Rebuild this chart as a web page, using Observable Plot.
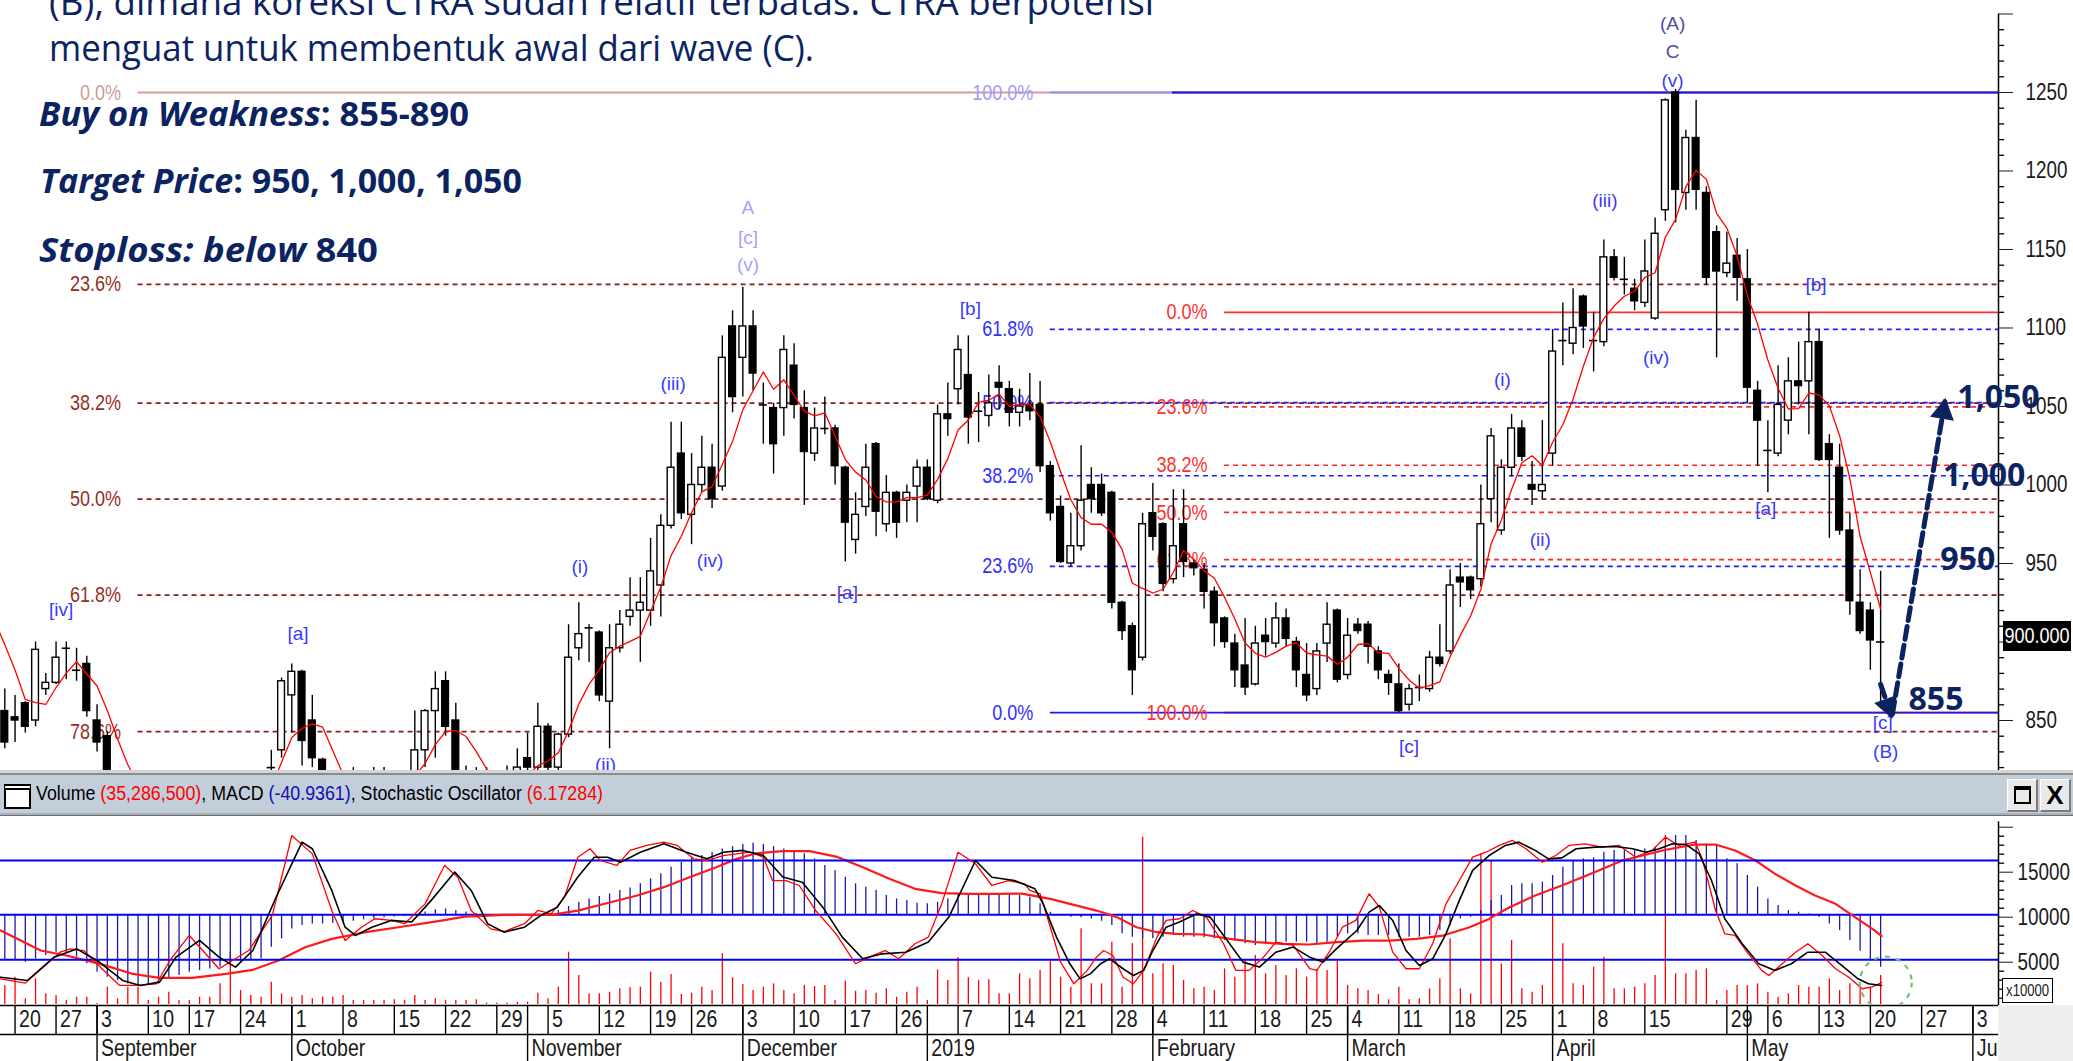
<!DOCTYPE html>
<html>
<head>
<meta charset="utf-8">
<script src="https://cdn.jsdelivr.net/npm/d3@7"></script>
<script src="https://cdn.jsdelivr.net/npm/@observablehq/plot@0.6"></script>
<style>
  html, body { margin: 0; padding: 0; background: #fff; }
  #root { position: relative; width: 2073px; height: 1061px; overflow: hidden; background: #fff; }
  #root > * { position: absolute; }
</style>
</head>
<body>
<div id="root"></div>
<script>
// ================= DATA =================
// trading calendar: first candle index and its date, days without a candle
const firstIndex = -5;
const startDate = "2018-08-10";
const lastCandleDate = "2019-05-21";
const noTradeDays = ["2018-08-17","2018-08-22","2018-08-31","2018-09-11","2018-11-20","2018-12-24","2018-12-25",
  "2018-12-31","2019-01-01","2019-02-01","2019-03-01","2019-04-03","2019-04-17","2019-04-19","2019-05-01"];
const monthNames = ["January","February","March","April","May","June","July","August","September","October","November","December"];

// daily CTRA candles (index -5 .. 182)
const opens = [935,930,940,905,856,852,861,850,870,874, 897,883,886,850,840,812,805,800,795,800,
  798,792,785,790,798,805,800,795,802,808, 819,831,866,881,850,825,810,800,805,812,
  806,815,810,804,814,831,856,875,850,815, 812,808,815,805,815,826,820,846,820,841,
  896,910,906,862,896,916,920,920,936,974, 1020,981,1000,1011,999,1101,1081,1101,1052,1049,
  1049,1076,1049,1020,1037,1036,1011,965,986,1026, 975,995,990,999,1011,990,1045,1061,1070,1048,
  1044,1065,1061,1046,1051,1051,1012,986,950,961, 1000,1000,995,925,910,890,982,975,940,975,
  950,946,932,915,899,885,873,904,899,915, 900,879,870,899,920,879,911,911,894,879,
  873,860,870,870,890,894,941,941,940,991, 971,1011,1036,1000,996,1020,1091,1090,1120,1091,
  1091,1145,1132,1125,1116,1106,1175,1250,1186,1221, 1186,1161,1135,1146,1131,1060,1021,1020,1041,1066,
  1066,1091,1026,1011,971,925,920,901];
const highs = [945,950,942,910,870,866,862,900,880,900, 900,896,891,860,843,816,812,808,805,810,
  806,800,795,802,810,815,808,806,812,816, 831,877,886,882,866,826,815,812,820,818,
  820,820,816,815,856,857,881,881,861,821, 820,820,818,821,832,842,861,848,842,911,
  925,911,907,911,920,941,941,966,981,1040, 1040,1020,1031,1026,1095,1111,1126,1111,1065,1052,
  1095,1090,1060,1049,1056,1038,1012,995,1026,1027, 1006,996,1000,1016,1016,1051,1065,1095,1095,1059,
  1070,1076,1066,1061,1071,1066,1015,993,982,1025, 1011,1007,996,926,912,982,1001,976,997,997,
  952,950,935,916,905,915,910,915,925,921, 903,899,899,925,921,915,915,913,897,882,
  886,873,879,894,911,946,950,942,1000,1036, 1016,1045,1041,1015,1041,1099,1116,1125,1121,1110,
  1156,1150,1145,1131,1156,1170,1246,1252,1226,1245, 1190,1165,1161,1157,1150,1066,1041,1076,1081,1091,
  1110,1099,1032,1026,982,946,925,945];
const lows = [920,925,900,870,832,836,842,846,866,873, 876,875,852,830,808,800,795,790,785,792,
  788,780,775,785,792,798,790,788,796,800, 810,826,842,821,820,805,795,792,800,800,
  800,805,798,796,810,820,826,840,812,805, 800,802,800,798,810,815,818,815,815,839,
  888,887,862,832,893,910,887,910,916,972, 978,962,995,985,996,1046,1056,1060,1026,1007,
  1031,1042,987,1015,1032,1000,951,956,980,967, 970,966,976,976,990,988,1031,1051,1026,1027,
  1037,1048,1037,1037,1041,1008,977,950,948,958, 982,980,921,901,866,888,958,932,937,941,
  942,921,897,896,871,866,872,891,896,897, 871,862,866,887,874,876,905,886,876,866,
  855,856,862,868,884,892,922,927,935,976, 968,1005,1015,987,991,1012,1076,1083,1087,1072,
  1088,1130,1121,1111,1113,1105,1168,1167,1175,1175, 1127,1081,1132,1117,1052,1012,995,1018,1032,1051,
  1032,1015,966,968,917,905,882,862];
const closes = [930,940,905,880,836,850,846,895,874,890, 896,882,856,836,812,805,800,795,800,798,
  792,785,790,798,805,800,795,802,808,812, 820,875,881,837,826,810,800,805,812,806,
  815,810,804,812,831,856,870,846,815,812, 808,815,805,815,820,820,846,820,841,890,
  905,909,866,896,911,920,925,945,974,1011, 982,1000,1011,991,1081,1056,1101,1071,1051,1026,
  1086,1051,1021,1036,1036,1012,976,981,1011,983, 995,976,995,1011,991,1045,1042,1086,1043,1047,
  1052,1062,1046,1050,1047,1012,982,951,961,990, 991,982,925,907,882,975,967,937,961,951,
  947,932,912,900,882,871,899,900,915,902, 882,866,894,911,876,904,907,897,882,874,
  856,870,871,890,886,936,938,933,975,1031, 1011,1036,1018,997,1000,1085,1092,1100,1101,1092,
  1145,1132,1131,1117,1136,1160,1245,1188,1221,1188, 1132,1136,1141,1132,1062,1041,1022,1051,1066,1063,
  1091,1016,1016,971,926,907,901,900];

// lower panel series start at index -1
const lowerFirstIndex = -1;
// volume in units of 10,000 shares
const volume = [2410,3335,928,3150,1483,1298,742,1113,1113,400, 2224,928,2224,2224,742,1113,1668,742,742,1113,
  1113,2594,6113,1854,1298,1113,2780,1483,1113,1298, 928,1113,1113,1298,742,742,742,742,816,742,
  1298,742,928,742,742,742,816,446,446,446, 557,557,1557,928,2224,6113,3520,1483,1483,1668,
  2039,2150,2224,3891,2780,3631,1409,1557,2224,1854, 5928,3261,2520,1854,2224,2594,1854,1483,2409,2298,
  2409,742,2891,1780,1854,1557,2039,1113,1668,2224, 742,4150,2965,5483,3261,2965,3039,1483,1483,3706,
  3150,4076,5187,3335,2224,8706,2594,2594,7224,2224, 7039,18892,3706,4817,4632,2965,2039,2224,1854,4261,
  3335,5187,5743,3706,4632,3520,4261,3335,4150,4076, 5187,2409,2039,1854,1409,817,2224,817,928,2039,
  3150,7595,2039,1483,17040,16300,4817,7410,2039,1668, 2409,10188,7039,2594,2409,4446,5557,2039,2039,2224,
  2594,3520,19077,3706,3706,4076,4261,742,1854,2409, 2409,2594,1668,1113,1483,2409,2224,2224,3150,1854,
  2594,2039,2224,3529];
// MACD histogram
const macd = [-35.7,-35.7,-37,-34.4,-31.8,-29.2,-30.5,-33.1,-38.3,-44.8, -48.8,-51.4,-54,-55.3,-55.3,-54,-50,-47.5,-44.8,-43.5,
  -42.3,-41,-38.3,-37,-35.7,-34.4,-25.3,-18.8,-11,-8.4, -7.1,-7.1,-6.6,-5.8,-5,-3.9,-3.2,-2.3,-1.8,-1.3,
  0.3,2.1,3.9,4.6,3.4,2.1,0.8,0,-0.8,-1, -1,-0.6,0.2,1.2,3.3,6.5,9.8,12.4,14.3,16.3,
  19,21,24.2,28.1,32,37.2,41.1,44.5,46.3,48.9, 51.5,53.3,54.9,55.9,54.9,53.3,51.5,50.2,47.6,43.7,
  38.5,34.6,29.4,24.2,21.6,19,15.1,12.4,11.2,9.1, 8.6,9.8,12.4,15.8,16.3,16.3,16.3,16.3,15.8,15.1,
  13.7,8.6,2,0.2,-1.9,-2.4,-3.2,-5,-8.4,-14.9, -17.5,-18.8,-18.8,-17.5,-16.2,-17.5,-17.5,-18,-18.8,-20.1,
  -20.6,-22.7,-24,-23.2,-22.7,-21.4,-21.4,-21.4,-22.7,-21.4, -17.5,-14.9,-14.9,-16.2,-16.2,-16.2,-17.5,-17.5,-17.5,-16.2,
  -12.3,-8.4,-3.2,-1.9,3.3,11.1,15.1,22.9,24.2,24.2, 25.5,30.7,37.2,42.4,43.7,44.5,48.9,50.2,50.2,50.2,
  51.5,52.8,54.1,61.9,61.9,58,55.4,54.1,43.7,39.8, 30.7,21.6,12.4,7.2,3.3,2,0.7,-1.9,-7.1,-12.3,
  -20.1,-28.4,-35,-40.94];
// MACD signal line, read at its visible vertices: [trading-day index, value]
const signalPts = [[-1.4,-12.3],[2.5,-27.9],[5,-31.8],[8.3,-38.3],[11.5,-46.2],[14.1,-49.3],[17.3,-49.3],[20.6,-46.2],
  [23.2,-43],[25.7,-35.7],[28.3,-25.3],[30.9,-18.8],[34.2,-13.6],[37.4,-9.7],[41.3,-5],[43.9,-1.4],[47.7,0],[52.3,0],
  [54.9,3.3],[58.1,9.8],[60.7,15.1],[63.3,21.6],[65.8,29.4],[68.4,37.2],[70.4,43.7],[72.3,48.1],[74.9,49.7],[77.5,49.7],
  [80.1,45.5],[82.7,37.2],[85.3,28.1],[87.8,20.3],[90.4,16.9],[93,16.3],[95.6,16.3],[98.2,16.5],[101,12.4],[102.9,8.5],
  [105.5,3.3],[107.5,-1.8],[109.4,-9.7],[111.4,-13.6],[113.3,-14.9],[115.9,-15.4],[118.5,-18.8],[121.1,-21.4],[123.7,-22.7],
  [126.3,-23.2],[128.9,-21.4],[131.5,-20.1],[134.1,-20.1],[136.7,-18.8],[139.3,-16.2],[141.9,-9.7],[143.8,-3.2],[145.8,5.9],
  [148.3,15.1],[150.9,22.9],[152.9,29.4],[154.9,35.9],[156.8,42.4],[158.8,46.3],[160.7,50.2],[162.7,53.3],[163.9,54.9],
  [165.9,54.9],[167.8,50.2],[169.8,42.4],[171.7,32],[173.7,22.9],[175.6,15.1],[177.6,8.6],[179.5,-1.8],[181.4,-12.2],[182.1,-16.7]];
// Stochastic %K (red) and %D (black) vertices: [index, value]
const stochK = [[-1.4,8.5],[1,5.9],[4.4,24.6],[5.4,26.6],[6.7,25.6],[8.3,15.6],[10.2,4.5],[11.8,4.5],[13.8,5.5],[15.1,19.6],
  [17,34.7],[19.9,14.6],[22.8,25.6],[25.1,46.8],[27,95.1],[29,84],[30.9,49.8],[32.2,31.7],[33.8,39.7],[35.1,44.8],[36.7,43.8],
  [38,41.8],[40,53.8],[41.9,77],[43.2,69.9],[44.5,49.8],[46.4,38.7],[47.7,37.1],[49.7,41.8],[51,49.8],[52.3,47.8],[53.6,57.9],
  [54.9,82],[56.1,87.1],[57.1,80],[58.7,77],[60,86.1],[61.6,89.1],[63.3,91.1],[64.6,89.1],[66.2,81],[67.5,80],[69.1,83],
  [70.4,84],[71.7,85],[73,82],[73.9,67.9],[75.2,67.9],[76.5,64.9],[78.1,49.8],[80.1,35.7],[82,17.6],[83.3,21.6],[84.9,25.6],
  [86.2,20.6],[87.8,29.7],[89.1,33.7],[90.4,53.8],[92,85],[93.7,78],[95.3,64.9],[96.9,67.9],[98.5,65.9],[99,61.9],[100,59.9],
  [101,39.7],[102,18.6],[103.3,5.5],[104.6,13.6],[105.5,21.6],[106.2,25.6],[107.1,22.6],[108.1,9.5],[109.1,5.5],[110.1,13.6],
  [111.4,33.7],[112.3,43.8],[113.6,44.8],[114.9,49.8],[116.2,45.8],[117.9,29.7],[119.1,13.6],[120.4,13.6],[121.8,21.6],[123,30.7],
  [124.7,28.7],[126.3,14.6],[127,13.6],[128.2,24.6],[129.5,39.7],[130.8,43.8],[132.1,59.9],[133.1,51.8],[134.4,24.6],[135.7,14.6],
  [137,14.6],[138.3,29.7],[139.6,53.8],[140.9,67.9],[142.2,82],[143.5,85],[144.8,89.1],[146.1,92.1],[147.4,87.1],[149,79],
  [150.3,83],[151.6,89.1],[153.2,90.1],[154.8,88.1],[156.5,89.1],[158.1,82],[159.7,86.1],[161,94.1],[162.3,89.1],[163.9,91.1],
  [164.6,81],[165.9,49.8],[166.8,35.7],[167.8,34.7],[169.1,23.6],[170.4,13.6],[171.1,10.5],[172.4,17.6],[173.7,24.6],[174.9,29.7],
  [176.3,22.6],[177.6,14.6],[178.9,9.5],[180.2,2.5],[181.1,3.5],[182.1,6.2]];
const stochD = [[-1.4,9.5],[1.2,7.5],[3.8,21.6],[6,26.6],[8,19.6],[10.5,7.5],[12.2,4.5],[14.1,6.5],[15.7,21.6],[18,31.7],
  [19.9,21.6],[21.5,15.6],[23.2,25.6],[25.4,56.9],[28,91.1],[29,87.1],[30.9,61.9],[32.2,39.7],[33.2,34.7],[34.8,39.7],
  [36.7,43.8],[38.7,42.8],[40.6,55.9],[42.9,73],[44.5,61.9],[46.1,41.8],[47.7,36.7],[49.7,39.7],[51.3,46.8],[52.9,51.8],
  [54.9,70],[56.5,82],[57.8,82],[59.1,79],[61,85],[63.3,90.1],[65.5,85],[67.5,81],[69.1,85],[71,86.1],[73,83],[74.9,70],
  [76.8,66.9],[78.8,51.8],[80.7,33.7],[82.7,20.6],[84.6,23.6],[86.9,24.6],[89.1,30.7],[91.1,45.8],[93.7,80],[95.3,69.9],
  [97.5,67.9],[99.5,62.9],[100.3,53.8],[101.6,33.7],[102.9,17.6],[103.9,8.5],[104.9,11.5],[105.9,17.6],[106.8,20.6],[108.1,14.6],
  [109.1,10.5],[110.1,13.6],[111,25.6],[112.3,39.7],[113.6,42.8],[115.3,47.8],[116.6,45.8],[117.9,34.7],[119.8,18.6],[121.4,15.6],
  [123,24.6],[124.7,27.7],[126.3,21.6],[127.6,18.6],[128.9,26.6],[130.9,37.7],[132.1,48.8],[133.1,52.8],[134.4,43.8],[135.7,25.6],
  [137,16.6],[138.3,20.6],[139.6,35.7],[140.9,55.9],[142.2,74],[143.8,83],[145.4,89.1],[146.7,91.1],[148.3,86.1],[149.6,81],
  [150.9,81.6],[152.3,87.1],[154.2,88.1],[156.1,88.5],[157.8,87.1],[159.1,85],[160.4,87.1],[161.7,90.1],[163,89.7],[164.3,84],
  [165.5,67.9],[166.8,44.8],[168.5,29.7],[170.1,17.6],[171.7,13.6],[173.3,17.6],[174.9,24.6],[176.6,24.6],[178.2,16.6],[179.8,8.5],
  [180.8,5.5],[182.1,4.5]];

// Fibonacci tools: price of 0% and 100%, first trading-day index of the lines, ratios shown
const fibBrown = {from: 1250, to: 732, start: 12, ratios: [0, 23.6, 38.2, 50, 61.8, 78.6]};
const fibRed   = {from: 1110, to: 855, start: 118, ratios: [0, 23.6, 38.2, 50, 61.8, 100]};
const fibBlue  = {from: 855, to: 1250, start: 101, ratios: [0, 23.6, 38.2, 50, 61.8, 100]};

// Elliott wave labels: text, trading-day index, price
const waveText  = ["[iv]","[a]","(i)","(ii)","(iii)","(iv)","A","[c]","(v)","[a]","[b]","[c]","(i)","(ii)","(iii)","(iv)","(A)","C","(v)","[a]","[b]","[c]","(B)"];
const waveIdx   = [4.5,27.6,55.1,57.6,64.2,67.8,71.5,71.5,71.5,81.2,93.2,136,145.1,148.8,155.1,160.1,161.7,161.7,161.7,170.8,175.7,182.2,182.5];
const wavePrice = [920.7,905.4,948,822,1064.6,951.9,1176.7,1157.5,1140.4,931.5,1112.4,833,1067.2,965.2,1181,1081.2,1293.6,1276,1257.6,985,1127.5,848.5,830.2];

// projection: targets and the dashed path
const targetText  = ["1,050","1,000","950","855"];
const targetIdx   = [193.5, 192.1, 190.5, 187.4];
const targetPrice = [1055.4, 1006, 952.5, 863];
const pathIdx   = [182, 183.1, 188.3];
const pathPrice = [873, 852, 1054.4];
const lastClose = 900;

const headerTitle = [["Volume ", "#000"], ["(35,286,500)", "#ff0000"], [", MACD ", "#000"], ["(-40.9361)", "#1010b0"],
  [", Stochastic Oscillator ", "#000"], ["(6.17284)", "#ff0000"]];

// ================= LAYOUT / STYLE =================
const W = 2073, FRAME_R = 1998, MAIN_H = 770;
const NARROW = '"Liberation Sans",Arial,sans-serif';   // rendered condensed (see squeeze)
const SANS = '"Liberation Sans",Arial,sans-serif';
const DOC = '"Open Sans","Noto Sans",sans-serif';
const NAVY = "#0b2461";
const SQUEEZE = 0.82;
const xDomain = [-1.42, 193.5];
const yMainDomain = [818.15, 1308.6];
const root = document.getElementById("root");
function place(el, left, top) { el.style.position = "absolute"; el.style.left = left + "px"; el.style.top = top + "px"; root.appendChild(el); return el; }
// condense text horizontally (narrow-font look) about each text's own origin
function squeeze(svg, f, sizes) {
  svg.querySelectorAll("text").forEach(t => {
    if (sizes && !sizes.includes(getComputedStyle(t).fontSize)) return;
    const x = parseFloat(t.getAttribute("x") || "0") || 0;
    t.setAttribute("x", x / f);
    const tr = t.getAttribute("transform") || "";
    t.setAttribute("transform", (tr + ` scale(${f},1)`).trim());
  });
}

// calendar
const parse = d3.timeParse("%Y-%m-%d"), fmt = d3.timeFormat("%Y-%m-%d");
const skip = new Set(noTradeDays);
const lastDate = parse(lastCandleDate);
const days = [];
{
  const d = parse(startDate); let i = firstIndex;
  while (i <= 196) {
    const dow = d.getDay();
    const future = d > lastDate;
    if (dow !== 0 && dow !== 6 && (future || !skip.has(fmt(d)))) { days.push({i, date: new Date(d)}); i++; }
    d.setDate(d.getDate() + 1);
  }
}
const weekTicks = []; const monthTicks = [];
{
  let prevWeek = null, lastShown = -Infinity, prevMonth = null;
  for (const d of days) {
    if (d.i < 0 || d.i > xDomain[1]) continue;
    const wk = +d3.timeMonday.floor(d.date);
    if (wk !== prevWeek) { prevWeek = wk; if (d.i - lastShown >= 4) { weekTicks.push({i: d.i, label: String(d.date.getDate())}); lastShown = d.i; } }
    const m = d.date.getMonth();
    if (prevMonth !== null && m !== prevMonth) monthTicks.push({i: d.i, label: m === 0 ? String(d.date.getFullYear()) : monthNames[m]});
    prevMonth = m;
  }
}

const candles = opens.map((o, k) => ({i: k + firstIndex, o, h: highs[k], l: lows[k], c: closes[k]}));
const bodies = candles.filter(d => Math.abs(d.c - d.o) > 1);
const dojis = candles.filter(d => Math.abs(d.c - d.o) <= 1);
const fibStyle = {
  brown: {line: "#8c1c1c", solid: "#a83232", text: "#93301f"},
  red:   {line: "#ff2626", solid: "#ff2a2a", text: "#ff3030"},
  blue:  {line: "#2020ff", solid: "#1c1ce8", text: "#2f2fff"}
};
const fibRows = [["brown", fibBrown], ["red", fibRed], ["blue", fibBlue]].flatMap(([name, s]) =>
  s.ratios.map(r => ({set: name, price: s.from + (s.to - s.from) * r / 100, start: s.start,
    label: r.toFixed(1) + "%", solid: r === 0 || r === 100})));
const waves = waveText.map((t, k) => ({t, i: waveIdx[k], p: wavePrice[k]}));
const targets = targetText.map((t, k) => ({t, i: targetIdx[k], p: targetPrice[k]}));
const path = pathIdx.map((x, k) => ({x, y: pathPrice[k]}));
const xs = d3.scaleLinear(xDomain, [0, FRAME_R]);
const ys = d3.scaleLinear(yMainDomain, [MAIN_H, 0]);
function heading(a, b) { return Math.atan2(xs(b.x) - xs(a.x), -(ys(b.y) - ys(a.y))) * 180 / Math.PI; }
const headR = 8, tip = (2 / 3) * Math.sqrt(4 * Math.PI * headR * headR / Math.sqrt(3)) * Math.sqrt(3) / 2;
const heads = [[path[0], path[1]], [path[1], path[2]]].map(([a, b]) => ({x: b.x, y: b.y, rot: heading(a, b)}));

const fibMarks = ["brown", "red", "blue"].flatMap(name => {
  const rows = fibRows.filter(d => d.set === name), st = fibStyle[name];
  return [
    Plot.ruleY(rows.filter(d => !d.solid), {y: "price", x1: "start", x2: xDomain[1], stroke: st.line, strokeWidth: 1.7, strokeDasharray: "5,4", clip: true}),
    Plot.ruleY(rows.filter(d => d.solid), {y: "price", x1: "start", x2: xDomain[1], stroke: st.solid, strokeWidth: 1.8, clip: true})
  ];
});

const main = Plot.plot({
  width: W, height: MAIN_H, marginLeft: 0, marginRight: W - FRAME_R, marginTop: 0, marginBottom: 0,
  style: {background: "#fff", fontFamily: NARROW, fontSize: "23px", color: "#1a1a1a", overflow: "visible"},
  x: {domain: xDomain, axis: null},
  y: {domain: yMainDomain, axis: "right", label: null, ticks: d3.range(850, 1301, 50), tickSize: 14, tickPadding: 13,
      tickFormat: d => (d === 1300 || d === lastClose) ? "" : String(d)},
  marks: [
    ...fibMarks,
    Plot.text(fibRows, {x: "start", y: "price", text: "label", textAnchor: "end", dx: -17, fontSize: 22,
      fill: d => fibStyle[d.set].text}),
    Plot.ruleX(candles, {x: "i", y1: "l", y2: "h", stroke: "#000", strokeWidth: 1.4, clip: true}),
    Plot.rect(bodies, {x1: d => d.i - 0.33, x2: d => d.i + 0.33, y1: "o", y2: "c",
      fill: d => d.c >= d.o ? "#ffffff" : "#000000", stroke: "#000", strokeWidth: 1.4, clip: true}),
    Plot.ruleY(dojis, {y: "c", x1: d => d.i - 0.4, x2: d => d.i + 0.4, stroke: "#000", strokeWidth: 1.6, clip: true}),
    Plot.lineY(candles, Plot.windowY({k: 5, anchor: "end"}, {x: "i", y: "c", stroke: "#ff0000", strokeWidth: 1.3, clip: true})),
    Plot.text(waves, {x: "i", y: "p", text: "t", fontFamily: SANS, fontSize: 19,
      fill: d => (d.t === "(A)" || d.t === "C") ? "#4a4ea6" : "#3a3aff", clip: true}),
    Plot.ruleX([xDomain[1]], {y1: 1300, y2: yMainDomain[0], stroke: "#000", strokeWidth: 1.5}),
    Plot.ruleY(d3.range(820, 1301, 10).filter(v => v % 50), {y: d => d, x1: xDomain[1], x2: xDomain[1] + 0.6, stroke: "#000", strokeWidth: 1.3}),
    Plot.line(path, {x: "x", y: "y", stroke: NAVY, strokeWidth: 5, strokeDasharray: "13,6"}),
    ...heads.map(h => Plot.dot([h], {x: "x", y: "y", rotate: "rot", symbol: "triangle", r: headR, fill: NAVY, stroke: NAVY,
      dx: -Math.sin(h.rot * Math.PI / 180) * tip, dy: Math.cos(h.rot * Math.PI / 180) * tip})),
    Plot.text(targets, {x: "i", y: "p", text: "t", fontFamily: DOC, fontWeight: "bold", fontSize: 32, fill: NAVY})
  ]
});
place(main, 0, 0);
squeeze(main, SQUEEZE, ["22px", "23px"]);

// last price box on the price axis
{
  const y = main.scale("y").apply(lastClose);
  const box = document.createElement("div");
  Object.assign(box.style, {width: "68px", height: "30px", background: "#000", overflow: "hidden"});
  const s = document.createElement("div");
  s.textContent = lastClose.toFixed(3);
  Object.assign(s.style, {width: "83px", color: "#fff", font: `22px ${NARROW}`, lineHeight: "30px", textAlign: "center",
    transform: `scaleX(${SQUEEZE})`, transformOrigin: "0 0"});
  box.appendChild(s);
  place(box, 2003, Math.round(y - 20));
}

// translucent document box behind the text
{
  const ov = document.createElement("div");
  Object.assign(ov.style, {width: "1172px", height: "275px", background: "rgba(255,255,255,0.52)"});
  place(ov, 0, 0);
}

// document text (SVG so lines get exact length)
{
  const svg = d3.create("svg").attr("width", 1200).attr("height", 280).style("overflow", "visible");
  const lines = [
    {x: 49, y: 15, w: 1105, size: 36, weight: 400, parts: [["(B), dimana koreksi CTRA sudah relatif terbatas. CTRA berpotensi", 0]]},
    {x: 49, y: 61, w: 765, size: 36, weight: 400, parts: [["menguat untuk membentuk awal dari wave (C).", 0]]},
    {x: 39, y: 126, w: 430, size: 34, weight: 700, parts: [["Buy on Weakness", 1], [": 855-890", 0]]},
    {x: 40, y: 193, w: 482, size: 34, weight: 700, parts: [["Target Price", 1], [": 950, 1,000, 1,050", 0]]},
    {x: 39, y: 262, w: 339, size: 34, weight: 700, parts: [["Stoploss: below", 1], [" 840", 0]]}
  ];
  for (const L of lines) {
    const t = svg.append("text").attr("x", L.x).attr("y", L.y).attr("fill", NAVY)
      .attr("font-family", DOC).attr("font-size", L.size).attr("font-weight", L.weight)
      .attr("textLength", L.w).attr("lengthAdjust", "spacingAndGlyphs");
    for (const [s, it] of L.parts) t.append("tspan").attr("font-style", it ? "italic" : "normal").text(s);
  }
  place(svg.node(), 0, 0);
}

// separator + indicator header
{
  const mk = (l, t, w, h, bg) => { const d = document.createElement("div"); Object.assign(d.style, {width: w + "px", height: h + "px", background: bg}); return place(d, l, t); };
  mk(0, 770, W, 3, "#d4d4d4");
  mk(0, 773, W, 2, "#8c8c8c");
  mk(0, 775, W, 38, "#c3cedb");
  mk(0, 813, W, 2, "#a9b0b8");
  mk(0, 815, W, 1, "#6f6f6f");
  const ic = mk(4, 784, 27, 25, "#fff");
  Object.assign(ic.style, {border: "2px solid #000", borderTop: "6px double #000", boxSizing: "border-box"});
  for (const [l, glyph] of [[2007, "box"], [2040, "X"]]) {
    const b = mk(l, 779, 31, 33, "#e9e9e9");
    Object.assign(b.style, {boxSizing: "border-box", borderTop: "1px solid #fff", borderLeft: "1px solid #fff",
      borderRight: "2px solid #7a7a7a", borderBottom: "2px solid #7a7a7a"});
    if (glyph === "X") {
      Object.assign(b.style, {font: `bold 26px ${SANS}`, textAlign: "center", lineHeight: "30px", color: "#000"});
      b.textContent = "X";
    } else {
      const g = document.createElement("div");
      Object.assign(g.style, {position: "absolute", left: "6px", top: "6px", width: "17px", height: "18px",
        border: "2px solid #000", borderTop: "4px solid #000", boxSizing: "border-box"});
      b.appendChild(g);
    }
  }
  const svg = d3.create("svg").attr("width", 700).attr("height", 40);
  const t = svg.append("text").attr("x", 36).attr("y", 26).attr("font-family", NARROW).attr("font-size", 20)
    .attr("textLength", 567).attr("lengthAdjust", "spacingAndGlyphs");
  for (const [s, c] of headerTitle) t.append("tspan").attr("fill", c).text(s);
  place(svg.node(), 0, 774);
}

// lower panel: volume, MACD, stochastic (same x scale, own y scales)
const LOW_TOP = 816, LOW_H = 189;
const lowBase = {width: W, height: LOW_H, marginLeft: 0, marginRight: W - FRAME_R, marginTop: 0, marginBottom: 0,
  x: {domain: xDomain, axis: null}};
const volData = volume.map((v, k) => ({i: k + lowerFirstIndex, v}));
const macdData = macd.map((m, k) => ({i: k + lowerFirstIndex, m}));
const volPlot = Plot.plot({...lowBase,
  style: {background: "#fff", fontFamily: NARROW, fontSize: "23px", color: "#1a1a1a", overflow: "visible"},
  y: {domain: [0, 20000], range: [190.7, 10.7], axis: "right", label: null, ticks: [5000, 10000, 15000, 20000],
      tickSize: 14, tickPadding: 5, tickFormat: d => d === 20000 ? "" : String(d)},
  marks: [
    Plot.ruleX(volData, {x: "i", y1: 0, y2: "v", stroke: "#ff0000", strokeWidth: 1.3, clip: true}),
    Plot.ruleX([xDomain[1]], {y1: 0, y2: 20600, stroke: "#000", strokeWidth: 1.5}),
    Plot.ruleY(d3.range(1000, 20001, 1000).filter(v => v % 5000), {y: d => d, x1: xDomain[1], x2: xDomain[1] + 0.6, stroke: "#000", strokeWidth: 1.3})
  ]
});
place(volPlot, 0, LOW_TOP);
squeeze(volPlot, SQUEEZE);
const macdPlot = Plot.plot({...lowBase, style: {background: "transparent", overflow: "visible"},
  y: {domain: [-50, 50], range: [162.3, 34.3], axis: null},
  marks: [
    Plot.ruleX(macdData, {x: "i", y1: 0, y2: "m", stroke: "#1a1aa6", strokeWidth: 1.3, clip: true}),
    Plot.ruleY([0], {stroke: "#0000ff", strokeWidth: 2}),
    Plot.line(signalPts, {x: d => d[0], y: d => d[1], stroke: "#ff1a1a", strokeWidth: 2.2, clip: true})
  ]
});
place(macdPlot, 0, LOW_TOP);
const stochPlot = Plot.plot({...lowBase, style: {background: "transparent", overflow: "visible"},
  y: {domain: [0, 100], range: [176.4, 10.9], axis: null},
  marks: [
    Plot.ruleY([80, 20], {stroke: "#0000ff", strokeWidth: 2}),
    Plot.line(stochK, {x: d => d[0], y: d => d[1], stroke: "#ff0000", strokeWidth: 1.3, clip: true}),
    Plot.line(stochD, {x: d => d[0], y: d => d[1], stroke: "#000", strokeWidth: 1.6, clip: true}),
    Plot.dot([stochK[stochK.length - 1]], {x: d => d[0] + 0.4, y: d => d[1], r: 26, fill: "none", stroke: "#6fc16f",
      strokeWidth: 2.2, strokeDasharray: "5,6"})
  ]
});
place(stochPlot, 0, LOW_TOP);
{
  const bx = document.createElement("div");
  Object.assign(bx.style, {width: "51px", height: "25px", boxSizing: "border-box", border: "1px solid #000", background: "#fff", overflow: "hidden"});
  const s = document.createElement("div");
  s.textContent = "x10000";
  Object.assign(s.style, {width: "60px", font: `16px ${NARROW}`, lineHeight: "23px", textAlign: "center", color: "#1a1a1a",
    transform: `scaleX(${SQUEEZE})`, transformOrigin: "0 0"});
  bx.appendChild(s);
  place(bx, 2002, 978);
}

// date axis
const axisPlot = Plot.plot({
  width: FRAME_R, height: 57, marginLeft: 0, marginRight: 0, marginTop: 0, marginBottom: 0,
  style: {background: "#fff", fontFamily: NARROW, fontSize: "23px", color: "#1a1a1a"},
  x: {domain: xDomain, axis: null},
  y: {domain: [0, 2], range: [1, 59], axis: null},
  marks: [
    Plot.ruleY([0, 1], {stroke: "#000", strokeWidth: 1.6}),
    Plot.ruleX(weekTicks, {x: "i", y1: 0, y2: 1, stroke: "#000", strokeWidth: 1.4}),
    Plot.text(weekTicks, {x: "i", y: 0.5, text: "label", textAnchor: "start", dx: 4, fill: "#1a1a1a"}),
    Plot.ruleX(monthTicks, {x: "i", y1: 0, y2: 2, stroke: "#000", strokeWidth: 1.4}),
    Plot.text(monthTicks, {x: "i", y: 1.5, text: "label", textAnchor: "start", dx: 4, fill: "#1a1a1a"})
  ]
});
place(axisPlot, 0, 1004);
squeeze(axisPlot, 0.85);
{
  const g = document.createElement("div");
  Object.assign(g.style, {width: (W - FRAME_R) + "px", height: "56px", background: "#efefef"});
  place(g, FRAME_R, 1005);
}
</script>
</body>
</html>
